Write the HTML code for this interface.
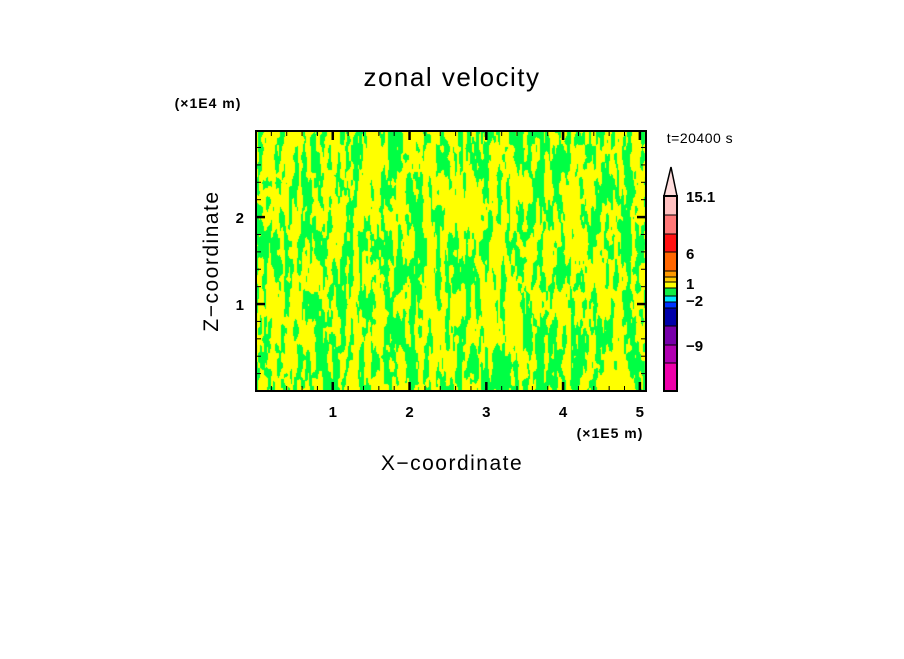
<!DOCTYPE html>
<html><head><meta charset="utf-8"><style>
body{margin:0;background:#fff;width:904px;height:654px;overflow:hidden;font-family:"Liberation Sans",sans-serif}
</style></head><body>
<svg id="s" width="904" height="654" xmlns="http://www.w3.org/2000/svg">
<text x="452" y="86" font-size="26" text-anchor="middle" letter-spacing="1.5">zonal velocity</text>
<text x="208" y="108" font-size="14" text-anchor="middle" letter-spacing="1" font-weight="bold">(×1E4 m)</text>
<text x="700" y="143" font-size="14" text-anchor="middle" letter-spacing="0.5">t=20400 s</text>
<foreignObject x="256" y="131" width="390" height="260"><canvas xmlns="http://www.w3.org/1999/xhtml" id="cv" width="390" height="260" style="display:block"></canvas></foreignObject>
<rect x="256" y="131" width="390" height="260" fill="none" stroke="#000" stroke-width="2"/>
<g id="axes"></g>
<text x="610" y="438" font-size="14" text-anchor="middle" letter-spacing="1" font-weight="bold">(×1E5 m)</text>
<text x="452" y="470" font-size="21" text-anchor="middle" letter-spacing="1.5">X−coordinate</text>
<text x="218" y="261" font-size="21" text-anchor="middle" letter-spacing="1.5" transform="rotate(-90 218 261)">Z−coordinate</text>
<g id="cbar"></g>
</svg>
<script>
const xTicks=[1,2,3,4,5];
const yTicks=[1,2];
const cbColors=["#ffc0c0","#ff7777","#ff1111","#ff6600","#ff9900","#ffcc00","#ffff00","#11ee44","#00e5ff","#0033ff","#0000aa","#7700aa","#b000b0","#ee00aa"];
const cbBounds=[196,215,234,252,271,277,282,288,296,302,308,326,345,363,391];
const cbLabels=[["15.1",196],["6",253],["1",283],["−2",300],["−9",345]];
const NS="http://www.w3.org/2000/svg";
const X0=256,X1=646,Y0=391,Y1=131,XMAX=5.08,YMAX=2.99;
const sx=v=>X0+v/XMAX*(X1-X0), sy=v=>Y0-v/YMAX*(Y0-Y1);
const ax=document.getElementById('axes');
function ln(x1,y1,x2,y2,w,name){const l=document.createElementNS(NS,'line');l.setAttribute('x1',x1);l.setAttribute('y1',y1);l.setAttribute('x2',x2);l.setAttribute('y2',y2);l.setAttribute('stroke','#000');l.setAttribute('stroke-width',w);

ax.appendChild(l);}
function tx(x,y,t,anchor,size,name,parent){const e=document.createElementNS(NS,'text');e.setAttribute('x',x);e.setAttribute('y',y);e.setAttribute('font-size',size);e.setAttribute('text-anchor',anchor);e.setAttribute('font-weight','bold');e.textContent=t;

parent.appendChild(e);}
for(let v=0.2;v<XMAX;v+=0.2){const x=sx(v),maj=Math.abs(v-Math.round(v))<1e-6;const L=maj?9:5;ln(x,Y0,x,Y0-L,maj?2.5:1,'x-tick');ln(x,Y1,x,Y1+L,maj?2.5:1,'x-tick-top');}
for(let v=0.2;v<YMAX;v+=0.2){const y=sy(v),maj=Math.abs(v-Math.round(v))<1e-6;const L=maj?9:5;ln(X0,y,X0+L,y,maj?2.5:1,'y-tick');ln(X1,y,X1-L,y,maj?2.5:1,'y-tick-right');}
xTicks.forEach(v=>tx(sx(v),417,String(v),'middle',15,'x-tick-label',ax));
yTicks.forEach(v=>tx(244,sy(v)+6,String(v),'end',15,'y-tick-label',ax));
const cb=document.getElementById('cbar');
cbColors.forEach((c,i)=>{const r=document.createElementNS(NS,'rect');r.setAttribute('x',664);r.setAttribute('y',cbBounds[i]);r.setAttribute('width',13);r.setAttribute('height',cbBounds[i+1]-cbBounds[i]);r.setAttribute('fill',c);r.setAttribute('stroke','#000');r.setAttribute('stroke-width',1);

cb.appendChild(r);});
const tri=document.createElementNS(NS,'polygon');tri.setAttribute('points','664,196 677,196 671,167');tri.setAttribute('fill','#ffdddd');tri.setAttribute('stroke','#000');tri.setAttribute('stroke-width',1.5);

cb.appendChild(tri);
const fr=document.createElementNS(NS,'rect');fr.setAttribute('x',664);fr.setAttribute('y',196);fr.setAttribute('width',13);fr.setAttribute('height',195);fr.setAttribute('fill','none');fr.setAttribute('stroke','#000');fr.setAttribute('stroke-width',2);

cb.appendChild(fr);
cbLabels.forEach(([t,y])=>tx(686,y+6,t,'start',15,'colorbar-label',cb));
// field texture (turbulent pattern, not readable data)
const cv=document.getElementById('cv'),g=cv.getContext('2d');
let seed=12345;const rnd=()=>{seed=(seed*1103515245+12345)&0x7fffffff;return seed/0x7fffffff;};
function grid(cols,rows){const a=[];for(let i=0;i<=rows;i++){const r=[];for(let j=0;j<=cols;j++)r.push(rnd());a.push(r);}return a;}
const G1=grid(90,9),G2=grid(180,30);
function samp(G,cols,rows,u,v){const x=u*cols,y=v*rows,i=Math.min(Math.floor(y),rows-1),j=Math.min(Math.floor(x),cols-1),fx=x-j,fy=y-i;
const a=G[i][j],b=G[i][j+1],c=G[i+1][j],d=G[i+1][j+1];const sx=fx*fx*(3-2*fx),sy=fy*fy*(3-2*fy);return a+(b-a)*sx+(c-a)*sy+(a-b-c+d)*sx*sy;}
const img=g.createImageData(390,260);
for(let y=0;y<260;y++)for(let x=0;x<390;x++){
 const v=y/260,u=x/390;
 const n=0.6*samp(G1,90,9,u,v)+0.4*samp(G2,180,30,u,v);
 const green=n<0.47;const k=(y*390+x)*4;
 img.data[k]=green?0:255;img.data[k+1]=255;img.data[k+2]=green?68:0;img.data[k+3]=255;}
g.putImageData(img,0,0);
</script>
</body></html>
